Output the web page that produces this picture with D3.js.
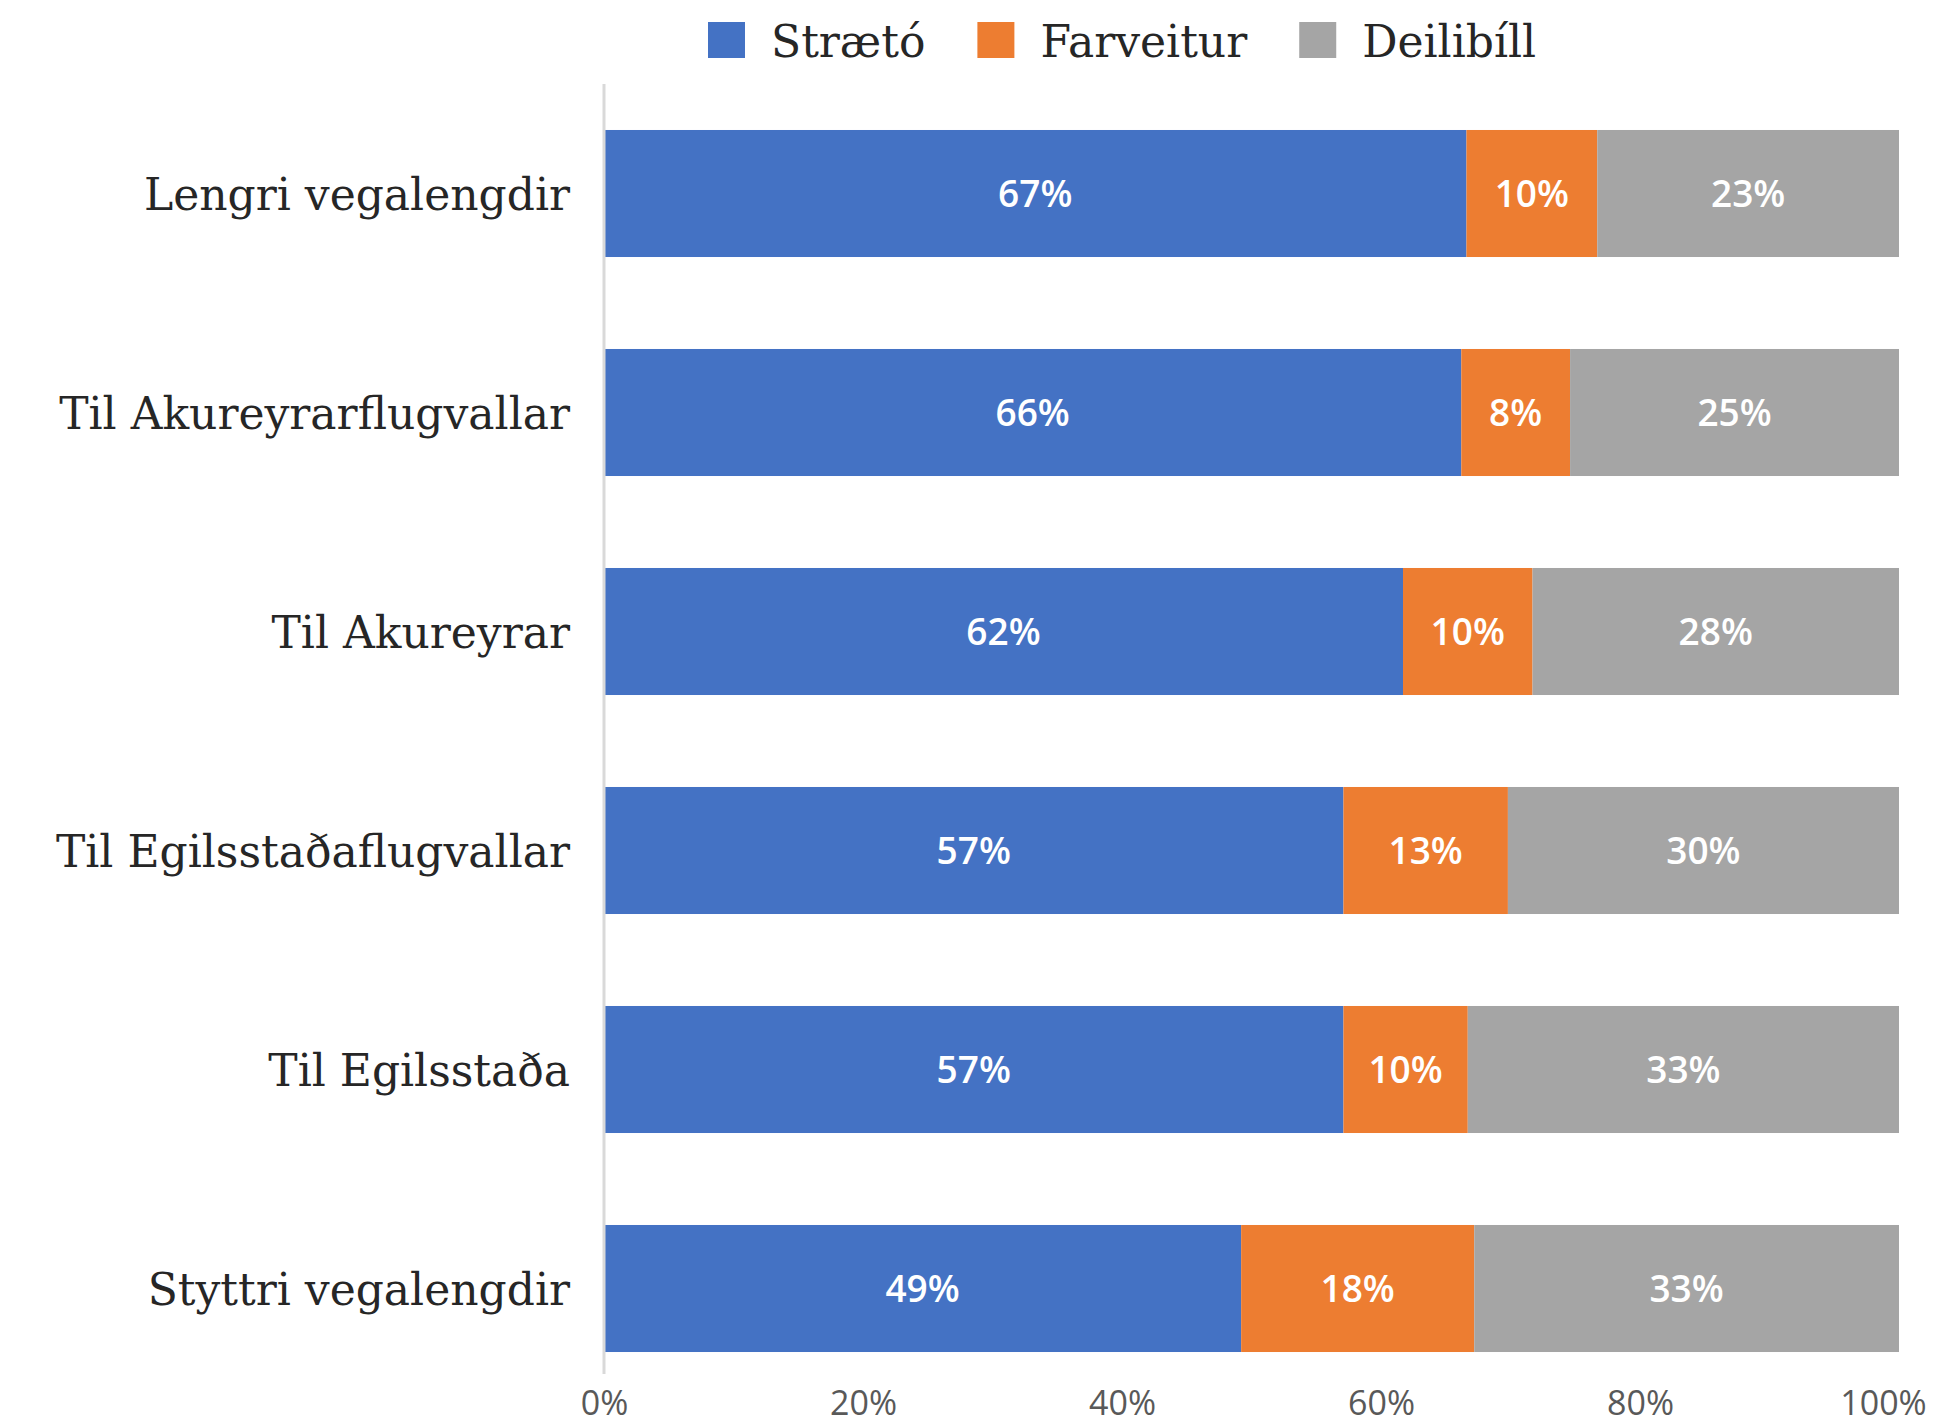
<!DOCTYPE html>
<html>
<head>
<meta charset="utf-8">
<script src="https://cdn.jsdelivr.net/npm/d3@7"></script>
<style>
  body { margin: 0; background: #fff; }
</style>
</head>
<body>
<div id="chart"></div>
<script>
// categories, top to bottom
var categories = ["Lengri vegalengdir", "Til Akureyrarflugvallar", "Til Akureyrar",
                  "Til Egilsstaðaflugvallar", "Til Egilsstaða", "Styttri vegalengdir"];
var seriesNames = ["Strætó", "Farveitur", "Deilibíll"];
// shares in percent
var straeto   = [66.6, 66.2, 61.7, 57.1, 57.1, 49.2];
var farveitur = [10.1, 8.4, 10.0, 12.7, 9.6, 18.0];
var deilibill = [23.3, 25.4, 28.3, 30.2, 33.3, 32.8];
var tickValues = [0, 20, 40, 60, 80, 100];

var colors = ["#4472c4", "#ed7d31", "#a5a5a5"];

var width = 1946, height = 1424;
var margin = {top: 84, right: 47, bottom: 26, left: 604};

var svg = d3.select("#chart").append("svg")
    .attr("width", width)
    .attr("height", height);

var rows = categories.map(function(c, i) {
  return {cat: c, "Strætó": straeto[i], "Farveitur": farveitur[i], "Deilibíll": deilibill[i]};
});
var stacked = d3.stack().keys(seriesNames)(rows);

var x = d3.scaleLinear()
    .domain([0, 100])
    .range([margin.left, width - margin.right]);
var y = d3.scaleBand()
    .domain(categories)
    .range([margin.top, height - margin.bottom])
    .paddingInner(0.42)
    .paddingOuter(0.21);

// bars
var layer = svg.selectAll(".layer")
    .data(stacked)
    .enter().append("g")
    .attr("class", "layer")
    .attr("fill", function(d, i) { return colors[i]; });

layer.selectAll("rect")
    .data(function(d) { return d; })
    .enter().append("rect")
    .attr("x", function(d) { return x(d[0]); })
    .attr("y", function(d) { return y(d.data.cat); })
    .attr("width", function(d) { return x(d[1]) - x(d[0]); })
    .attr("height", y.bandwidth());

// value labels
layer.selectAll("text")
    .data(function(d) { return d; })
    .enter().append("text")
    .attr("x", function(d) { return (x(d[0]) + x(d[1])) / 2; })
    .attr("y", function(d) { return y(d.data.cat) + y.bandwidth() / 2; })
    .attr("dy", "0.36em")
    .attr("text-anchor", "middle")
    .attr("fill", "#ffffff")
    .style("font-family", "'Open Sans', sans-serif")
    .style("font-weight", 600)
    .style("font-size", "37px")
    .text(function(d) { return Math.round(d[1] - d[0]) + "%"; });

// vertical axis line
svg.append("line")
    .attr("x1", x(0)).attr("x2", x(0))
    .attr("y1", y.range()[0]).attr("y2", y.range()[1] - 24)
    .attr("stroke", "#d9d9d9")
    .attr("stroke-width", 3);

// category labels
svg.selectAll(".cat")
    .data(categories)
    .enter().append("text")
    .attr("class", "cat")
    .attr("x", x(0) - 34)
    .attr("y", function(d) { return y(d) + y.bandwidth() / 2; })
    .attr("dy", "0.37em")
    .attr("text-anchor", "end")
    .attr("fill", "#262626")
    .style("font-family", "'DejaVu Serif', serif")
    .style("font-size", "44px")
    .text(function(d) { return d; });

// x axis ticks
var xAxis = svg.append("g")
    .attr("transform", "translate(0," + 1372 + ")")
    .call(d3.axisBottom(x)
      .tickValues(tickValues)
      .tickSize(0)
      .tickPadding(19)
      .tickFormat(function(d) { return d + "%"; }));
xAxis.select(".domain").remove();
xAxis.selectAll("text")
    .attr("fill", "#595959")
    .style("font-family", "'Open Sans', sans-serif")
    .style("font-size", "34px");
xAxis.selectAll(".tick").filter(function(d) { return d === 100; })
    .select("text").attr("dx", "-16");

// legend
var legend = svg.append("g").attr("transform", "translate(708,22)");
var lx = 0;
seriesNames.forEach(function(name, i) {
  var g = legend.append("g").attr("transform", "translate(" + lx + ",0)");
  g.append("rect")
    .attr("width", 37).attr("height", 36)
    .attr("fill", colors[i]);
  var t = g.append("text")
    .attr("x", 63)
    .attr("y", 35)
    .attr("fill", "#262626")
    .style("font-family", "'DejaVu Serif', serif")
    .style("font-size", "44px")
    .text(name);
  lx += 63 + t.node().getComputedTextLength() + 52;
});
</script>
</body>
</html>
